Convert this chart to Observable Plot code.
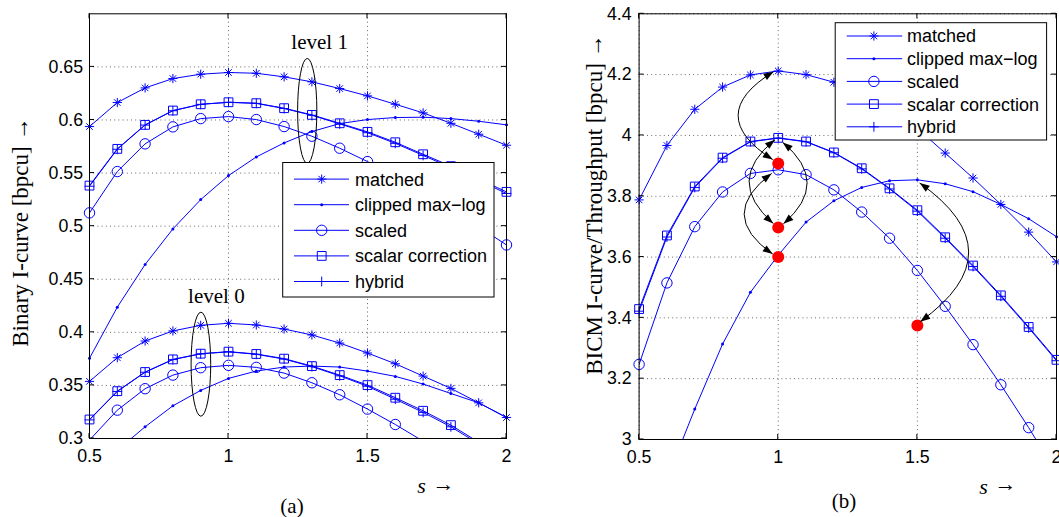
<!DOCTYPE html>
<html><head><meta charset="utf-8">
<script src="https://cdn.jsdelivr.net/npm/d3@7"></script>
<script src="https://cdn.jsdelivr.net/npm/@observablehq/plot@0.6"></script>
<style>
body{margin:0;background:#fff}
#fig{position:relative;width:1059px;height:517px;overflow:hidden;background:#fff}
#pa{position:absolute;left:0;top:0;width:530px;height:517px}
#pb{position:absolute;left:530px;top:0;width:529px;height:517px}
</style></head><body>
<div id="fig"><div id="pa"></div><div id="pb"></div></div>
<script>
// ---------- data ----------
const sValues = [0.5,0.6,0.7,0.8,0.9,1.0,1.1,1.2,1.3,1.4,1.5,1.6,1.7,1.8,1.9,2.0];
const seriesNames = ["matched","clipped max\u2212log","scaled","scalar correction","hybrid"];

// (a) level 1
const aL1Matched = [0.5938,0.6164,0.6302,0.6390,0.6431,0.6447,0.6440,0.6406,0.6359,0.6296,0.6227,0.6148,0.6067,0.5969,0.5866,0.5762];
const aL1Clipped = [0.3756,0.4237,0.4639,0.4974,0.5250,0.5476,0.5652,0.5784,0.5891,0.5966,0.6004,0.6023,0.6026,0.6013,0.5988,0.5954];
const aL1Scaled  = [0.5125,0.5514,0.5775,0.5935,0.6013,0.6032,0.6004,0.5938,0.5847,0.5734,0.5608,0.5470,0.5320,0.5160,0.4995,0.4823];
const aL1Scalar  = [0.5382,0.5728,0.5954,0.6089,0.6148,0.6167,0.6158,0.6111,0.6048,0.5969,0.5888,0.5790,0.5677,0.5565,0.5443,0.5323];
const aL1Hybrid  = [0.5376,0.5724,0.5952,0.6087,0.6147,0.6166,0.6156,0.6108,0.6044,0.5963,0.5880,0.5780,0.5666,0.5552,0.5430,0.5308];
// (a) level 0
const aL0Matched = [0.3538,0.3761,0.3918,0.4013,0.4066,0.4085,0.4069,0.4031,0.3975,0.3899,0.3805,0.3704,0.3588,0.3472,0.3336,0.3198];
const aL0Clipped = [0.2640,0.2890,0.3110,0.3308,0.3453,0.3566,0.3635,0.3673,0.3682,0.3673,0.3635,0.3585,0.3513,0.3424,0.3336,0.3198];
const aL0Scaled  = [0.2985,0.3267,0.3469,0.3597,0.3667,0.3689,0.3670,0.3616,0.3525,0.3412,0.3277,0.3132,0.2975,0.2810,0.2640,0.2460];
const aL0Scalar  = [0.3179,0.3446,0.3626,0.3745,0.3799,0.3818,0.3796,0.3752,0.3682,0.3597,0.3503,0.3384,0.3261,0.3126,0.2965,0.2800];
const aL0Hybrid  = [0.3175,0.3443,0.3624,0.3743,0.3797,0.3816,0.3793,0.3748,0.3677,0.3590,0.3492,0.3370,0.3246,0.3110,0.2950,0.2785];

// (b)
const bMatched = [3.788,3.967,4.086,4.159,4.199,4.212,4.200,4.175,4.138,4.088,4.023,3.942,3.860,3.773,3.682,3.584];
const bClipped = [2.620,2.870,3.100,3.314,3.484,3.606,3.715,3.785,3.829,3.851,3.854,3.841,3.815,3.773,3.726,3.667];
const bScaled  = [3.247,3.515,3.700,3.814,3.875,3.887,3.871,3.821,3.748,3.662,3.556,3.438,3.312,3.180,3.039,2.890];
const bScalar  = [3.429,3.671,3.832,3.927,3.980,3.992,3.980,3.944,3.892,3.826,3.754,3.665,3.572,3.474,3.370,3.262];
const bHybrid  = [3.422,3.666,3.829,3.925,3.979,3.991,3.979,3.943,3.890,3.824,3.751,3.662,3.569,3.471,3.367,3.259];
// red result points
const bResultS = [1.0, 1.0, 1.0, 1.5];
const bResultV = [3.908, 3.697, 3.600, 3.375];

// ticks
const xTicks  = [0.5, 1, 1.5, 2];
const aYTicks = [0.3, 0.35, 0.4, 0.45, 0.5, 0.55, 0.6, 0.65];
const bYTicks = [3, 3.2, 3.4, 3.6, 3.8, 4, 4.2, 4.4];

// annotations (data coordinates)
const aEllipseCx = [1.285, 0.9025];
const aEllipseCy = [0.6081, 0.3695];
const aEllipseRx = [0.0346, 0.0353];
const aEllipseRy = [0.0494, 0.0490];
const aLevelLabel = ["level 1", "level 0"];
const aLevelS = [1.3277, 0.9563];
const aLevelV = [0.673, 0.434];

const bArrowS1 = [0.985, 0.990, 1.018, 0.978, 1.510];
const bArrowV1 = [4.208, 3.984, 3.9755, 3.873, 3.842];
const bArrowS2 = [0.982, 0.984, 1.0206, 0.982, 1.512];
const bArrowV2 = [3.919, 3.709, 3.708, 3.608, 3.386];
const bArrowBulge = [-35, -25, 24, -28, 48.7]; // px, negative = to the left

// ---------- styling helpers ----------
const BLUE = "#0000ff";
const SANS = "'Liberation Sans', Arial, Helvetica, sans-serif";
const SERIF = "'Liberation Serif', 'Times New Roman', Times, serif";

const star8 = {draw(c, size) { const r = Math.sqrt(size / Math.PI), d = r * Math.SQRT1_2;
  c.moveTo(-r, 0); c.lineTo(r, 0); c.moveTo(0, -r); c.lineTo(0, r);
  c.moveTo(-d, -d); c.lineTo(d, d); c.moveTo(-d, d); c.lineTo(d, -d); }};
const plusSym = {draw(c, size) { const r = Math.sqrt(size / Math.PI);
  c.moveTo(-r, 0); c.lineTo(r, 0); c.moveTo(0, -r); c.lineTo(0, r); }};
const squareSym = {draw(c, size) { const r = Math.sqrt(size / Math.PI);
  c.moveTo(-r, -r); c.lineTo(r, -r); c.lineTo(r, r); c.lineTo(-r, r); c.closePath(); }};
const circleSym = {draw(c, size) { const r = Math.sqrt(size / Math.PI);
  c.moveTo(r, 0); c.arc(0, 0, r, 0, 2 * Math.PI); c.closePath(); }};

const specs = [
  {name: seriesNames[0], symbol: star8,     r: 4.6, fill: "none", stroke: BLUE},
  {name: seriesNames[1], symbol: circleSym, r: 1.5, fill: BLUE,   stroke: "none"},
  {name: seriesNames[2], symbol: circleSym, r: 5.2, fill: "none", stroke: BLUE},
  {name: seriesNames[3], symbol: squareSym, r: 4.4, fill: "none", stroke: BLUE},
  {name: seriesNames[4], symbol: plusSym,   r: 4.9, fill: "none", stroke: BLUE}
];

function rowsFor(values, name, level) {
  return sValues.map((s, i) => ({s, v: values[i], series: name, key: name + "|" + level}));
}

// inward tick marks on all four sides
function inwardTicks(xt, yt, len) {
  return (index, {x, y}, values, dims) => {
    const x0 = dims.marginLeft, x1 = dims.width - dims.marginRight;
    const y0 = dims.marginTop, y1 = dims.height - dims.marginBottom;
    const p = d3.path();
    for (const t of xt) { const px = x(t); p.moveTo(px, y1); p.lineTo(px, y1 - len); p.moveTo(px, y0); p.lineTo(px, y0 + len); }
    for (const t of yt) { const py = y(t); p.moveTo(x0, py); p.lineTo(x0 + len, py); p.moveTo(x1, py); p.lineTo(x1 - len, py); }
    return d3.create("svg:path").attr("d", p.toString()).attr("stroke", "black").attr("fill", "none").attr("stroke-width", 1).node();
  };
}

function ellipsesMark() {
  return (index, {x, y}) => {
    const g = d3.create("svg:g").attr("fill", "none").attr("stroke", "black").attr("stroke-width", 1);
    aEllipseCx.forEach((cx, i) => {
      g.append("ellipse")
        .attr("cx", x(cx)).attr("cy", y(aEllipseCy[i]))
        .attr("rx", Math.abs(x(cx + aEllipseRx[i]) - x(cx)))
        .attr("ry", Math.abs(y(aEllipseCy[i] + aEllipseRy[i]) - y(aEllipseCy[i])));
    });
    return g.node();
  };
}

function head(g, tx, ty, dx, dy) {
  const L = 10, W = 3.6, n = Math.hypot(dx, dy), ux = dx / n, uy = dy / n;
  const bx = tx - ux * L, by = ty - uy * L;
  g.append("path").attr("d", `M${tx},${ty}L${bx - uy * W},${by + ux * W}L${bx + uy * W},${by - ux * W}Z`)
    .attr("fill", "black").attr("stroke", "none");
}

function arrowsMark() {
  return (index, {x, y}) => {
    const g = d3.create("svg:g");
    bArrowS1.forEach((s1, i) => {
      const x1 = x(s1), y1 = y(bArrowV1[i]), x2 = x(bArrowS2[i]), y2 = y(bArrowV2[i]);
      const dx = x2 - x1, dy = y2 - y1, c = Math.hypot(dx, dy);
      let nx = -dy / c, ny = dx / c;
      const b = bArrowBulge[i];
      if (Math.sign(nx) !== Math.sign(b)) { nx = -nx; ny = -ny; }
      const B = Math.abs(b);
      const qx = (x1 + x2) / 2 + nx * 2 * B, qy = (y1 + y2) / 2 + ny * 2 * B;
      g.append("path").attr("d", `M${x1},${y1}Q${qx},${qy} ${x2},${y2}`)
        .attr("fill", "none").attr("stroke", "black").attr("stroke-width", 1);
      head(g, x1, y1, x1 - qx, y1 - qy);
      head(g, x2, y2, x2 - qx, y2 - qy);
    });
    return g.node();
  };
}

function legendMark(box) {
  return () => {
    const g = d3.create("svg:g");
    g.append("rect").attr("x", box.x).attr("y", box.y).attr("width", box.w).attr("height", box.h)
      .attr("fill", "white").attr("stroke", "black").attr("stroke-width", 1);
    specs.forEach((sp, i) => {
      const yy = box.y + box.first + i * box.step;
      g.append("line").attr("x1", box.x + box.l0).attr("x2", box.x + box.l1).attr("y1", yy).attr("y2", yy)
        .attr("stroke", BLUE).attr("stroke-width", 1);
      const p = d3.path(); sp.symbol.draw(p, sp.r * sp.r * Math.PI);
      g.append("path").attr("transform", `translate(${box.x + box.m},${yy})`).attr("d", p.toString())
        .attr("fill", sp.fill).attr("stroke", sp.stroke).attr("stroke-width", 1);
      g.append("text").attr("x", box.x + box.t).attr("y", yy).attr("dy", "0.36em")
        .attr("text-anchor", "start")
        .attr("font-family", SANS).attr("font-size", 18).attr("fill", "black").text(sp.name);
    });
    return g.node();
  };
}

function seriesMarks(rows, ydom) {
  const marks = [Plot.line(rows, {x: "s", y: "v", z: "key", stroke: BLUE, strokeWidth: 1, clip: true})];
  for (const sp of specs) {
    const pts = rows.filter(d => d.series === sp.name && d.v >= ydom[0] && d.v <= ydom[1]);
    marks.push(Plot.dot(pts, {x: "s", y: "v", symbol: sp.symbol, r: sp.r, fill: sp.fill, stroke: sp.stroke, strokeWidth: 1}));
  }
  return marks;
}

function gridMarks(xt, yt) {
  const gs = {stroke: "#000", strokeOpacity: 0.6, strokeDasharray: "1,3.2", strokeWidth: 1};
  return [Plot.ruleX(xt, {x: d => d, ...gs}), Plot.ruleY(yt, {y: d => d, ...gs})];
}

const txt = {textAnchor: "middle", lineAnchor: "middle", fill: "black"};

// ---------- plot (a) ----------
const aDom = [0.3, 0.7];
const aRows = [
  ...rowsFor(aL1Matched, seriesNames[0], 1), ...rowsFor(aL1Clipped, seriesNames[1], 1),
  ...rowsFor(aL1Scaled, seriesNames[2], 1), ...rowsFor(aL1Scalar, seriesNames[3], 1),
  ...rowsFor(aL1Hybrid, seriesNames[4], 1),
  ...rowsFor(aL0Matched, seriesNames[0], 0), ...rowsFor(aL0Clipped, seriesNames[1], 0),
  ...rowsFor(aL0Scaled, seriesNames[2], 0), ...rowsFor(aL0Scalar, seriesNames[3], 0),
  ...rowsFor(aL0Hybrid, seriesNames[4], 0)
];
const levelRows = aLevelLabel.map((t, i) => ({t, s: aLevelS[i], v: aLevelV[i]}));

const plotA = Plot.plot({
  width: 530, height: 517,
  marginTop: 13.3, marginRight: 24, marginBottom: 79, marginLeft: 89,
  style: {fontFamily: SANS, fontSize: "17.8px", background: "white", overflow: "visible", color: "black"},
  x: {domain: [0.5, 2], ticks: xTicks, tickFormat: d => String(d), tickSize: 0, tickPadding: 11, label: null},
  y: {domain: aDom, ticks: aYTicks, tickFormat: d => String(d), tickSize: 0, tickPadding: 6.4, label: null},
  marks: [
    ...gridMarks(xTicks, aYTicks),
    ...seriesMarks(aRows, aDom),
    ellipsesMark(),
    Plot.text(levelRows, {x: "s", y: "v", text: "t", fontFamily: SERIF, fontSize: 21, ...txt}),
    legendMark({x: 282.7, y: 162.5, w: 211.3, h: 134.5, first: 16.6, step: 25.6, l0: 11.3, l1: 66.3, m: 39, t: 72.3}),
    Plot.frame({stroke: "black", strokeWidth: 1}),
    inwardTicks(xTicks, aYTicks, 5),
    Plot.text(["Binary I-curve [bpcu] \u2192"], {frameAnchor: "left", text: d => d, rotate: -90, dx: -69, dy: 6, fontFamily: SERIF, fontSize: 23, ...txt}),
    Plot.text(["s"], {frameAnchor: "bottom", text: d => d, dx: 123.5, dy: 47.5, fontFamily: SERIF, fontStyle: "italic", fontSize: 22, ...txt}),
    Plot.text(["\u2192"], {frameAnchor: "bottom", text: d => d, dx: 145.5, dy: 45, fontFamily: SERIF, fontSize: 22, ...txt}),
    Plot.text(["(a)"], {frameAnchor: "bottom", text: d => d, dx: -6, dy: 67.5, fontFamily: SERIF, fontSize: 21, ...txt})
  ]
});
document.getElementById("pa").appendChild(plotA);

// ---------- plot (b) ----------
const bDom = [3, 4.4];
const bRows = [
  ...rowsFor(bMatched, seriesNames[0], "b"), ...rowsFor(bClipped, seriesNames[1], "b"),
  ...rowsFor(bScaled, seriesNames[2], "b"), ...rowsFor(bScalar, seriesNames[3], "b"),
  ...rowsFor(bHybrid, seriesNames[4], "b")
];
const resultRows = bResultS.map((s, i) => ({s, v: bResultV[i]}));

const plotB = Plot.plot({
  width: 529, height: 517,
  marginTop: 13.3, marginRight: 3, marginBottom: 78, marginLeft: 108.6,
  style: {fontFamily: SANS, fontSize: "17.8px", background: "white", overflow: "visible", color: "black"},
  x: {domain: [0.5, 2], ticks: xTicks, tickFormat: d => String(d), tickSize: 0, tickPadding: 11, label: null},
  y: {domain: bDom, ticks: bYTicks, tickFormat: d => String(d), tickSize: 0, tickPadding: 7.4, label: null},
  marks: [
    ...gridMarks(xTicks, bYTicks),
    ...seriesMarks(bRows, bDom),
    Plot.dot(resultRows, {x: "s", y: "v", r: 6, fill: "#ff0000", stroke: "none"}),
    arrowsMark(),
    legendMark({x: 305.2, y: 22.7, w: 211.4, h: 117.3, first: 13.3, step: 22.7, l0: 11.5, l1: 67, m: 38.7, t: 71.8}),
    Plot.frame({stroke: "black", strokeWidth: 1}),
    inwardTicks(xTicks, bYTicks, 5),
    Plot.text(["BICM I-curve/Throughput [bpcu] \u2192"], {frameAnchor: "left", text: d => d, rotate: -90, dx: -44.6, dy: -22, fontFamily: SERIF, fontSize: 23, ...txt}),
    Plot.text(["s"], {frameAnchor: "bottom", text: d => d, dx: 135.7, dy: 47, fontFamily: SERIF, fontStyle: "italic", fontSize: 22, ...txt}),
    Plot.text(["\u2192"], {frameAnchor: "bottom", text: d => d, dx: 157.7, dy: 44.5, fontFamily: SERIF, fontSize: 22, ...txt}),
    Plot.text(["(b)"], {frameAnchor: "bottom", text: d => d, dx: -3.7, dy: 62, fontFamily: SERIF, fontSize: 21, ...txt})
  ]
});
document.getElementById("pb").appendChild(plotB);
</script>
</body></html>
